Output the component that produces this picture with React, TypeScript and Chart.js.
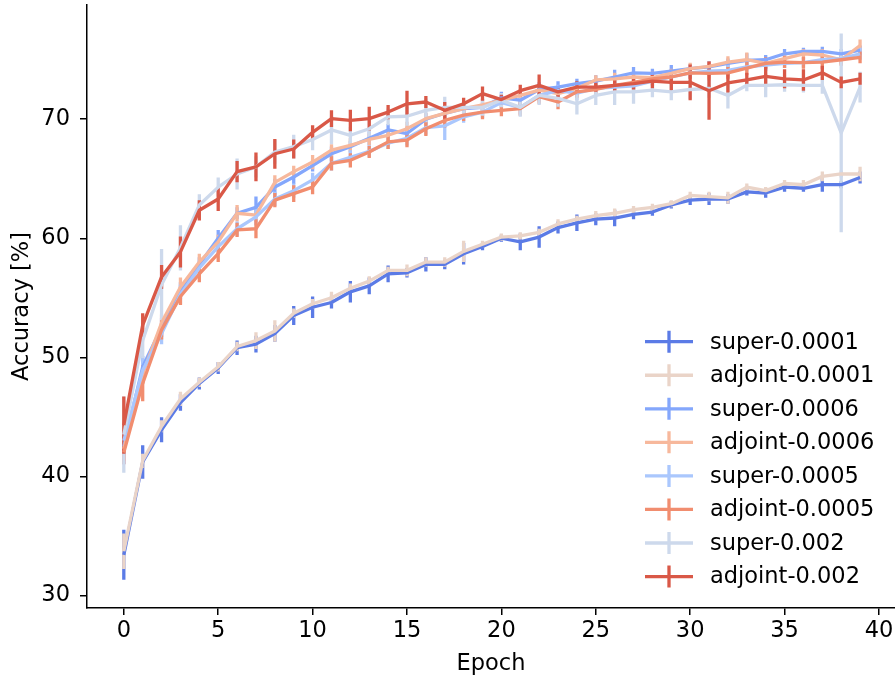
import React, { useEffect, useRef } from "react";
import { Chart, registerables } from "chart.js";

Chart.register(...registerables);

const EPOCHS = [0, 1, 2, 3, 4, 5, 6, 7, 8, 9, 10, 11, 12, 13, 14, 15, 16, 17, 18, 19, 20, 21, 22, 23, 24, 25, 26, 27, 28, 29, 30, 31, 32, 33, 34, 35, 36, 37, 38, 39];

const X_TICKS = [0, 5, 10, 15, 20, 25, 30, 35, 40];
const Y_TICKS = [30, 40, 50, 60, 70];

const SERIES_LABELS = ["super-0.0001", "adjoint-0.0001", "super-0.0006", "adjoint-0.0006", "super-0.0005", "adjoint-0.0005", "super-0.002", "adjoint-0.002"];
const SERIES_COLORS = ["#5b7be6", "#ead4c8", "#84a7fc", "#f7b89c", "#aac7fd", "#f18d6f", "#cdd9ec", "#d95847"];

const SUPER_0001 = [33.4, 41.2, 43.9, 46.2, 47.8, 49.1, 50.8, 51.1, 52.0, 53.5, 54.2, 54.6, 55.5, 56.0, 57.0, 57.1, 57.8, 57.8, 58.7, 59.3, 60.0, 59.7, 60.1, 60.9, 61.3, 61.6, 61.7, 62.0, 62.2, 62.8, 63.2, 63.3, 63.3, 63.9, 63.8, 64.3, 64.2, 64.5, 64.5, 65.1];
const SUPER_0001_ERR = [2.1, 1.4, 1.05, 0.7, 0.5, 0.5, 0.6, 0.7, 0.7, 0.8, 0.9, 0.5, 0.9, 0.7, 0.7, 0.4, 0.6, 0.4, 0.9, 0.3, 0.3, 0.7, 0.9, 0.5, 0.7, 0.5, 0.7, 0.4, 0.3, 0.3, 0.4, 0.5, 0.4, 0.3, 0.4, 0.4, 0.3, 0.6, 0.3, 0.5];

const ADJOINT_0001 = [33.7, 41.3, 44.2, 46.5, 47.9, 49.2, 50.9, 51.4, 52.2, 53.7, 54.5, 55.0, 55.8, 56.4, 57.3, 57.3, 58.0, 58.0, 58.9, 59.5, 60.1, 60.2, 60.5, 61.2, 61.6, 61.9, 62.1, 62.4, 62.6, 62.9, 63.6, 63.5, 63.4, 64.3, 64.0, 64.6, 64.5, 65.2, 65.4, 65.4];
const ADJOINT_0001_ERR = [1.5, 0.6, 0.5, 0.6, 0.4, 0.4, 0.4, 0.7, 0.9, 0.4, 0.4, 0.5, 0.4, 0.4, 0.3, 0.5, 0.4, 0.4, 0.9, 0.3, 0.3, 0.3, 0.3, 0.4, 0.3, 0.4, 0.4, 0.3, 0.3, 0.3, 0.3, 0.4, 0.5, 0.3, 0.3, 0.3, 0.4, 0.4, 0.3, 0.6];

const SUPER_0006 = [42.5, 49.2, 52.5, 55.6, 57.8, 60.0, 62.1, 62.6, 64.3, 65.15, 66.1, 67.1, 67.7, 68.4, 69.1, 68.8, 70.0, 70.5, 70.9, 71.0, 71.8, 71.6, 72.5, 72.7, 73.0, 73.2, 73.55, 73.9, 73.85, 74.05, 74.25, 74.4, 74.7, 74.95, 75.0, 75.5, 75.7, 75.7, 75.5, 75.8];
const SUPER_0006_ERR = [1.5, 0.9, 0.8, 0.7, 0.6, 0.7, 0.5, 0.9, 0.7, 0.6, 0.5, 0.6, 0.5, 0.6, 0.5, 0.6, 0.5, 0.4, 0.5, 0.4, 0.5, 0.4, 0.6, 0.5, 0.4, 0.5, 0.6, 0.5, 0.4, 0.5, 0.4, 0.5, 0.4, 0.6, 0.4, 0.4, 0.3, 0.4, 0.4, 0.4];

const ADJOINT_0006 = [42.3, 48.6, 52.9, 55.9, 58.0, 59.7, 62.1, 61.95, 64.7, 65.6, 66.4, 67.4, 67.8, 68.3, 68.65, 69.2, 70.05, 70.5, 70.9, 71.2, 71.6, 72.0, 72.45, 72.15, 72.6, 73.3, 73.4, 73.55, 73.5, 73.85, 74.25, 74.45, 74.8, 75.0, 74.7, 75.1, 75.5, 75.4, 75.0, 76.2];
const ADJOINT_0006_ERR = [1.0, 0.8, 0.7, 0.8, 0.7, 0.6, 0.7, 0.6, 0.6, 0.5, 0.6, 0.5, 0.6, 0.5, 0.5, 0.6, 0.5, 0.5, 0.4, 0.5, 0.4, 0.5, 0.5, 0.4, 0.5, 0.4, 0.5, 0.4, 0.5, 0.4, 0.5, 0.4, 0.5, 0.6, 0.4, 0.5, 0.4, 0.5, 0.4, 0.5];

const SUPER_0005 = [43.0, 48.9, 52.0, 55.3, 57.5, 59.3, 60.8, 61.8, 63.3, 64.0, 64.9, 66.3, 66.8, 67.3, 68.0, 68.4, 69.3, 69.45, 70.2, 70.6, 71.4, 71.0, 72.0, 72.4, 72.2, 72.6, 72.7, 72.8, 73.2, 73.55, 73.9, 74.05, 74.1, 74.4, 74.55, 74.7, 74.75, 75.0, 75.1, 75.5];
const SUPER_0005_ERR = [1.2, 1.0, 0.9, 0.8, 0.6, 0.6, 0.6, 0.7, 0.6, 0.6, 0.6, 0.6, 0.6, 0.5, 0.5, 0.6, 0.6, 1.2, 0.5, 0.5, 0.5, 0.6, 0.5, 0.5, 0.6, 0.5, 0.4, 0.5, 0.4, 0.5, 0.5, 0.4, 0.5, 0.4, 0.5, 0.4, 0.4, 0.4, 0.4, 0.5];

const ADJOINT_0005 = [42.0, 47.8, 52.3, 55.1, 57.0, 58.7, 60.7, 60.8, 63.2, 63.75, 64.3, 66.3, 66.55, 67.25, 68.1, 68.25, 69.2, 69.9, 70.35, 70.6, 70.75, 70.9, 71.9, 71.45, 72.3, 72.5, 72.85, 73.1, 73.4, 73.55, 73.9, 73.85, 73.9, 74.3, 74.7, 74.8, 74.75, 74.8, 75.0, 75.2];
const ADJOINT_0005_ERR = [1.0, 1.5, 0.8, 0.7, 0.7, 0.7, 0.6, 0.8, 0.6, 0.7, 0.6, 0.6, 0.6, 0.5, 0.6, 0.6, 0.6, 0.6, 0.5, 0.6, 0.5, 0.6, 0.6, 0.6, 0.5, 0.5, 0.5, 0.6, 0.5, 0.6, 0.5, 0.6, 0.5, 0.6, 0.5, 0.5, 0.5, 0.6, 0.5, 0.5];

const SUPER_002 = [43.5, 51.4, 56.1, 59.2, 62.8, 64.3, 65.4, 66.0, 67.25, 67.7, 68.3, 69.1, 68.65, 69.2, 70.2, 70.25, 70.75, 71.0, 71.0, 71.0, 71.6, 71.0, 72.0, 71.75, 71.3, 72.0, 72.3, 72.3, 72.45, 72.3, 72.5, 72.6, 72.0, 72.85, 72.85, 72.9, 72.85, 72.85, 68.85, 72.7];
const SUPER_002_ERR = [3.2, 1.5, 3.0, 1.9, 0.9, 0.8, 1.3, 0.9, 1.0, 1.0, 0.9, 1.2, 0.7, 0.8, 0.7, 0.8, 1.0, 0.9, 0.6, 0.7, 0.6, 0.8, 0.8, 0.7, 0.9, 0.8, 1.1, 1.0, 0.6, 0.7, 0.8, 0.8, 1.1, 0.5, 1.0, 0.6, 0.6, 0.7, 8.35, 1.3];

const ADJOINT_002 = [44.3, 52.7, 56.75, 58.85, 62.35, 63.3, 65.6, 66.0, 67.1, 67.5, 68.9, 70.05, 69.9, 70.05, 70.6, 71.3, 71.45, 70.75, 71.3, 72.15, 71.65, 72.4, 72.85, 72.3, 72.7, 72.7, 72.85, 73.0, 73.2, 73.1, 73.1, 72.4, 73.05, 73.3, 73.6, 73.4, 73.3, 73.9, 73.1, 73.4];
const ADJOINT_002_ERR = [2.4, 1.0, 1.0, 1.3, 0.85, 1.0, 0.9, 1.2, 1.25, 0.8, 0.6, 0.7, 0.9, 1.0, 0.6, 1.1, 0.5, 0.7, 0.5, 0.6, 0.4, 0.5, 0.9, 0.5, 0.5, 0.4, 0.5, 0.5, 0.6, 0.7, 1.5, 2.45, 0.8, 0.6, 0.8, 0.8, 0.9, 0.6, 0.5, 0.5];

const SERIES_VALUES = [SUPER_0001, ADJOINT_0001, SUPER_0006, ADJOINT_0006, SUPER_0005, ADJOINT_0005, SUPER_002, ADJOINT_002];
const SERIES_ERRORS = [SUPER_0001_ERR, ADJOINT_0001_ERR, SUPER_0006_ERR, ADJOINT_0006_ERR, SUPER_0005_ERR, ADJOINT_0005_ERR, SUPER_002_ERR, ADJOINT_002_ERR];

const FONT = "'DejaVu Sans', sans-serif";
const FONT_SIZE = 22.5;
const LINE_W = 3.3;

export default function App() {
  const ref = useRef<HTMLCanvasElement>(null);

  useEffect(() => {
    if (!ref.current) return;

    const errorBars = {
      id: "errorBars",
      beforeDatasetsDraw(chart: any) {
        const { ctx, chartArea, scales } = chart;
        const xs = scales.x;
        const ys = scales.y;
        ctx.save();
        ctx.beginPath();
        ctx.rect(chartArea.left, chartArea.top, chartArea.right - chartArea.left, chartArea.bottom - chartArea.top);
        ctx.clip();
        ctx.lineWidth = LINE_W;
        ctx.lineCap = "butt";
        SERIES_VALUES.forEach((vals, i) => {
          const errs = SERIES_ERRORS[i];
          ctx.strokeStyle = SERIES_COLORS[i];
          ctx.beginPath();
          vals.forEach((v, j) => {
            const x = xs.getPixelForValue(EPOCHS[j]);
            ctx.moveTo(x, ys.getPixelForValue(v + errs[j]));
            ctx.lineTo(x, ys.getPixelForValue(v - errs[j]));
          });
          ctx.stroke();
        });
        ctx.restore();
      },
    };

    const customLegend = {
      id: "customLegend",
      afterDraw(chart: any) {
        const { ctx, chartArea } = chart;
        const x0 = chartArea.right - 250;
        const y0 = chartArea.top + 336.7;
        const dy = 33.55;
        ctx.save();
        SERIES_LABELS.forEach((label, i) => {
          const y = y0 + i * dy;
          ctx.strokeStyle = SERIES_COLORS[i];
          ctx.lineWidth = LINE_W;
          ctx.lineCap = "butt";
          ctx.beginPath();
          ctx.moveTo(x0, y);
          ctx.lineTo(x0 + 48, y);
          ctx.moveTo(x0 + 24, y - 11);
          ctx.lineTo(x0 + 24, y + 11);
          ctx.stroke();
          ctx.fillStyle = "#000";
          ctx.font = `${FONT_SIZE}px ${FONT}`;
          ctx.textAlign = "left";
          ctx.textBaseline = "middle";
          ctx.fillText(label, x0 + 65, y + 1);
        });
        ctx.restore();
      },
    };

    const n = SERIES_VALUES.length;
    const chart = new Chart(ref.current, {
      type: "line",
      data: {
        datasets: SERIES_VALUES.map((vals, i) => ({
          label: SERIES_LABELS[i],
          data: vals.map((v, j) => ({ x: EPOCHS[j], y: v })),
          borderColor: SERIES_COLORS[i],
          backgroundColor: SERIES_COLORS[i],
          borderWidth: LINE_W,
          pointRadius: 0,
          fill: false,
          tension: 0,
          order: n - i,
        })),
      },
      options: {
        animation: false,
        responsive: false,
        devicePixelRatio: 1,
        layout: { padding: { top: 5, left: 0, right: 0, bottom: 0 } },
        elements: { line: { borderJoinStyle: "round", borderCapStyle: "butt" } },
        plugins: { legend: { display: false }, tooltip: { enabled: false } },
        scales: {
          x: {
            type: "linear",
            min: -1.95,
            max: 40.85,
            afterBuildTicks: (s: any) => {
              s.ticks = X_TICKS.map((v) => ({ value: v }));
            },
            afterFit: (s: any) => {
              s.height = 72;
              s.paddingLeft = 0;
              s.paddingRight = 0;
            },
            grid: { drawOnChartArea: false, drawTicks: true, tickLength: 7, color: "#000", lineWidth: 1.5 },
            border: { display: true, color: "#000", width: 1.5 },
            ticks: { color: "#000", font: { size: FONT_SIZE, family: FONT }, padding: 3, maxRotation: 0, autoSkip: false },
            title: { display: true, text: "Epoch", color: "#000", font: { size: FONT_SIZE, family: FONT }, padding: { top: 0, bottom: 2 } },
          },
          y: {
            type: "linear",
            min: 28.93,
            max: 79.6,
            afterBuildTicks: (s: any) => {
              s.ticks = Y_TICKS.map((v) => ({ value: v }));
            },
            afterFit: (s: any) => {
              s.width = 87;
              s.paddingTop = 0;
              s.paddingBottom = 0;
            },
            grid: { drawOnChartArea: false, drawTicks: true, tickLength: 7, color: "#000", lineWidth: 1.5 },
            border: { display: true, color: "#000", width: 1.5 },
            ticks: { color: "#000", font: { size: FONT_SIZE, family: FONT }, padding: 10, autoSkip: false },
            title: { display: true, text: "Accuracy [%]", color: "#000", font: { size: FONT_SIZE, family: FONT }, padding: { top: 9, bottom: 0 } },
          },
        },
      },
      plugins: [errorBars, customLegend],
    } as any);

    return () => chart.destroy();
  }, []);

  return (
    <div style={{ position: "absolute", left: 0, top: 0, width: 895, height: 680, background: "#fff" }}>
      <canvas ref={ref} width={895} height={680} style={{ display: "block", width: 895, height: 680 }} />
    </div>
  );
}
